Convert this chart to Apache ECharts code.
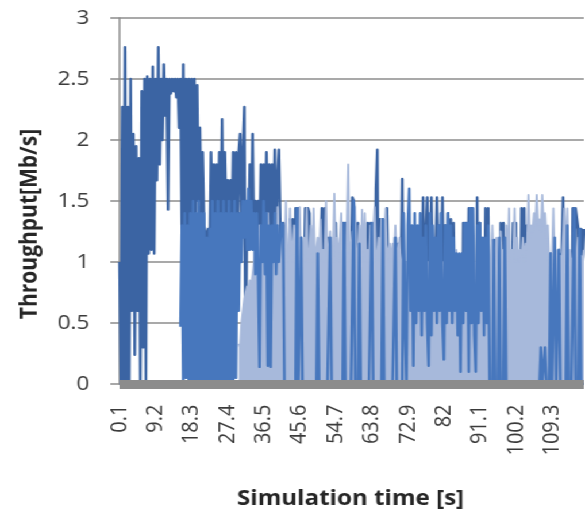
<!DOCTYPE html>
<html><head><meta charset="utf-8">
<script src="https://cdn.jsdelivr.net/npm/echarts@6/dist/echarts.min.js"></script>
<style>
html,body{margin:0;padding:0;background:#fff;overflow:hidden;width:585px;height:511px}
#c{width:509px;height:511px;transform:scaleX(1.1493);transform-origin:0 0}
</style>
</head><body><div id="c"></div><script>
// time axis: samples every 0.35 s starting at 0.1 s
const timeStart = 0.1, timeStep = 0.35, sampleCount = 336;
const categories = [];
for (let i = 0; i < sampleCount; i++) categories.push(String(+(timeStart + timeStep * i).toFixed(2)));
const tickLabels = ['0.1','9.2','18.3','27.4','36.5','45.6','54.7','63.8','72.9','82','91.1','100.2','109.3'];
const yTicks = [0, 0.5, 1, 1.5, 2, 2.5, 3];

// Flow 1 (dark blue) throughput [Mb/s]
const flow1 = [
1.0,0,2.27,0,2.76,0,2.27,0,2.5,0.6,
2.05,0.24,1.95,0.6,1.85,0.0,2.4,0.3,2.5,0.0,
2.52,1.07,2.5,1.1,2.6,1.07,2.5,1.67,2.76,1.8,
2.5,2.0,2.62,2.2,2.5,1.43,2.5,2.38,2.5,2.4,
2.5,2.35,2.5,2.1,2.5,1.2,2.62,1.0,2.5,1.2,
2.5,1.3,2.5,1.2,2.5,1.4,2.45,1.5,2.1,1.4,
1.9,1.3,1.25,1.1,1.27,1.0,1.9,1.3,1.8,1.3,
1.8,1.2,1.9,1.3,2.17,1.2,1.9,1.3,1.67,1.2,
1.67,1.2,1.9,1.2,1.9,1.1,1.9,2.05,1.2,1.9,
2.27,0.02,1.5,1.1,1.8,1.2,2.05,1.2,1.5,1.2,
1.5,1.1,1.8,1.2,1.8,1.2,1.9,1.2,1.8,1.1,
1.8,1.2,1.92,1.2,1.7,1.92,1.3,0.9,1.32,0.5,
1.32,0.5,0,1.35,0.5,1.35,0,1.44,0.5,1.44,
0,1.2,0,0,1.44,0.5,1.44,1.4,0,0,
0,1.07,0.5,1.07,0.5,1.07,1.44,0.5,1.44,0,
1.2,0.5,1.2,0,0,0,1.32,1.32,0,0,
0,1.32,0.5,1.32,0,0,0,0,1.53,1.5,
1.32,0.5,1.32,0,0,0,0,0,0,1.32,
0.5,1.32,0.5,1.32,0.5,1.6,1.92,0,1.35,0.5,
1.35,1.3,0,1.44,1.44,0,0,1.07,0.5,1.2,
0.5,1.15,0,0,1.68,0,0,0,0,0,
0,0,0,0,0,0,0,0,0.8,1.53,
0.9,1.2,1.53,0.7,1.1,1.53,0.8,0,1.0,1.53,
0.9,1.3,1.0,1.53,0.6,1.3,0.5,1.4,0.5,1.35,
0,1.32,1.32,0,0,0,0,0,1.32,0.5,
1.32,0.5,1.44,0.5,1.44,0,0,0,1.53,0,
1.32,0,0,0,1.44,0.5,1.44,0,0,1.18,
0.5,1.18,0,0,0,1.32,0.5,1.32,0,0,
0,0,0,0,1.32,0.5,1.32,0,0,0,
1.44,0.5,1.44,0,1.3,1.3,0,0,0,0,
0,0,0,0,0,0,0,0,0,0,
0,1.07,0.35,1.07,0,1.07,0.5,1.07,0.6,1.07,
1.53,0.4,0,0,0,0,0,1.44,0.1,1.44,
1.44,1.27,0.4,1.27,1.0,1.27
];

// Flow 2 (medium blue) throughput [Mb/s]
const flow2 = [
null,null,null,null,null,null,null,null,null,null,
null,null,null,null,null,null,null,null,null,null,
null,null,null,null,null,null,null,null,null,null,
null,null,null,null,null,null,null,null,null,null,
null,null,null,null,0.47,1.3,0.0,1.4,0.05,1.3,
0.0,1.4,0.02,1.5,0.0,1.4,0.0,1.5,0.03,1.4,
0.0,1.4,0.02,1.2,0.0,1.27,0.03,1.5,0.0,1.4,
0.0,1.5,0.02,1.4,0.0,1.5,0.03,1.4,0.0,1.5,
0.02,1.4,0.0,1.5,0.05,1.4,0.6,1.4,1.0,1.5,
1.2,1.5,1.1,1.6,1.1,1.5,1.1,1.4,0.9,1.4,
0.9,0.14,1.3,1.0,1.5,0.9,1.4,0.15,1.3,0.14,
1.3,1.0,1.4,0.9,1.3,1.0,1.2,1.32,1.3,0,
0,0,0,0,0,0,0,0,1.44,0,
0,1.2,0,0,0,0,0,0,0,0,
0,0,0,1.07,0,0,0,0,0,0,
0,0,1.2,0,0,0,0,0,0,0,
0,0,1.32,0,0,0,0,0,0,1.5,
0,0,0,1.15,0,0,0,0,0,0,
0,0,1.32,0,0,0,0,0,0,0,
1.35,0,0,0,0,0,0,0,0,1.2,
0,0,0,0,0,1.4,0.5,0.0,1.3,1.6,
0.6,1.3,0.15,1.4,0.5,1.3,0.6,1.4,0.4,1.2,
0.6,1.3,0.5,0.15,1.4,0.4,1.3,0.6,1.2,0.5,
1.3,0.6,1.4,0.5,0.2,1.3,0.5,1.4,0.6,1.3,
0.5,1.2,0.6,1.07,0.4,1.07,0.1,1.07,0.5,1.32,
0.6,1.32,0.1,1.44,0.5,1.44,0.4,0.1,1.3,0.5,
1.32,0.6,1.2,0.4,1.2,0.5,1.3,0,0,0,
1.18,0,0,0,1.2,0,0,0,1.2,0,
0,0,0,0,0,0,0,0,0,0,
0,0,0,0,0,0,0,0,0,0,
0,0,0,0,0.3,0,0,0.3,0,0,
0,1.07,0,0,1.2,0,0,1.1,0,0,
0,0,0,1.3,0,0,0,0,1.44,0,
0,0,1.27,0,0,0
];

// Flow 3 (light blue) throughput [Mb/s]
const flow3 = [
null,null,null,null,null,null,null,null,null,null,
null,null,null,null,null,null,null,null,null,null,
null,null,null,null,null,null,null,null,null,null,
null,null,null,null,null,null,null,null,null,null,
null,null,null,null,null,null,null,null,null,null,
null,null,null,null,null,null,null,null,null,null,
null,null,null,null,null,null,null,null,null,null,
null,null,null,null,null,null,null,null,null,null,
null,null,null,null,null,null,0.33,0.3,0.5,0.6,
0.7,0.75,0.8,0.7,0.85,0.8,0.8,1.0,1.18,0.9,
1.0,1.3,1.0,0.95,1.2,1.0,1.0,1.4,1.0,1.1,
1.0,1.25,0.95,1.0,1.45,1.0,1.0,1.2,1.0,0.95,
1.5,1.0,1.05,1.44,1.0,1.0,1.3,1.0,1.1,1.0,
1.45,1.0,1.0,1.2,1.0,1.44,1.0,1.05,1.3,1.0,
1.44,1.0,1.0,1.2,1.0,1.35,1.0,1.1,1.0,1.5,
1.0,1.0,1.25,1.0,1.05,1.56,1.0,1.2,1.0,1.0,
1.4,1.0,1.1,1.0,1.3,1.8,1.0,1.0,1.25,1.0,
1.45,1.0,1.05,1.3,1.0,1.43,1.0,1.4,1.0,1.1,
1.0,1.3,1.0,1.0,1.45,1.0,1.05,1.2,1.0,1.35,
1.0,1.0,1.44,1.0,1.1,1.15,1.0,1.15,1.0,1.3,
1.0,1.0,1.2,0.95,1.0,1.1,0.9,1.0,0.9,1.0,
0.95,0.9,1.0,0.9,0.95,1.0,0.9,1.0,0.95,0.9,
1.0,0.9,0.95,1.0,0.9,1.0,0.95,0.9,1.0,0.9,
1.0,0.95,0.9,1.0,0.9,0.95,1.0,0.9,1.0,0.95,
0.9,1.0,0.9,1.1,0.95,1.0,0.9,1.05,0.95,1.0,
0.9,1.0,0.95,1.1,0.9,1.0,0.95,1.0,0.9,1.05,
1.0,0.9,1.1,1.0,0.95,1.0,1.2,1.0,0.95,1.3,
1.0,1.0,1.2,1.0,1.05,1.25,1.0,1.1,1.0,1.3,
1.0,1.44,1.0,1.1,1.0,1.44,1.0,1.2,1.0,1.1,
1.05,1.2,1.0,1.15,1.1,1.55,1.2,1.3,1.25,1.4,
1.3,1.55,1.3,1.35,1.25,1.55,1.3,1.4,1.2,1.3,
1.0,1.05,1.0,1.44,1.0,1.0,1.1,1.0,1.05,1.0,
1.2,1.44,1.0,1.44,1.0,1.1,1.0,1.0,1.05,1.0,
1.0,1.2,1.0,1.05,1.0,1.1
];

const chart = echarts.init(document.getElementById('c'), null, {renderer: 'canvas'});
const fontFam = '"Open Sans", "Liberation Sans", sans-serif';
chart.setOption({
  animation: false,
  backgroundColor: '#ffffff',
  grid: {left: 104, right: 1, top: 18, bottom: 127, containLabel: false},
  xAxis: {
    type: 'category', data: categories, boundaryGap: false, z: 10, zlevel: 1, offset: 4.5,
    axisLine: {show: true, lineStyle: {color: '#8c8c8c', width: 9, cap: 'butt'}},
    axisTick: {show: false},
    splitLine: {show: false},
    axisLabel: {
      interval: 25, rotate: 90, margin: 16, fontFamily: fontFam, fontSize: 20, color: '#3b3b3b',
      formatter: function (v) { const k = tickLabels.indexOf(v); return k >= 0 ? tickLabels[k] : v; }
    }
  },
  yAxis: {
    type: 'value', min: yTicks[0], max: yTicks[yTicks.length - 1], interval: 0.5,
    axisLine: {show: true, lineStyle: {color: '#8c8c8c', width: 1.5}},
    axisTick: {show: true, length: 8, lineStyle: {color: '#8c8c8c', width: 1.5}},
    splitLine: {show: true, lineStyle: {color: '#8c8c8c', width: 1.5}},
    axisLabel: {margin: 26, fontFamily: fontFam, fontSize: 20, color: '#3b3b3b'}
  },
  graphic: [
    {type: 'text', x: 26, y: 224, rotation: Math.PI / 2,
     style: {text: 'Throughput[Mb/s]', font: 'bold 21px ' + fontFam, fill: '#262626',
             textAlign: 'center', textVerticalAlign: 'middle', align: 'center', verticalAlign: 'middle'}},
    {type: 'text', x: 305, y: 499,
     style: {text: 'Simulation time [s]', font: 'bold 21px ' + fontFam, fill: '#262626',
             textAlign: 'center', textVerticalAlign: 'middle', align: 'center', verticalAlign: 'middle'}}
  ],
  series: [
    {name: 'Flow 1', type: 'line', data: flow1, z: 2, showSymbol: false, symbol: 'none', silent: true,
     lineStyle: {color: '#3b64a3', width: 2.4, join: 'round'}},
    {name: 'Flow 3', type: 'line', data: flow3, z: 3, showSymbol: false, symbol: 'none', silent: true,
     lineStyle: {color: '#a7b9db', width: 1.8, join: 'round'},
     areaStyle: {color: '#a7b9db', opacity: 1}},
    {name: 'Flow 2', type: 'line', data: flow2, z: 4, showSymbol: false, symbol: 'none', silent: true,
     lineStyle: {color: '#4777bd', width: 2.4, join: 'round'}}
  ]
});
</script></body></html>
